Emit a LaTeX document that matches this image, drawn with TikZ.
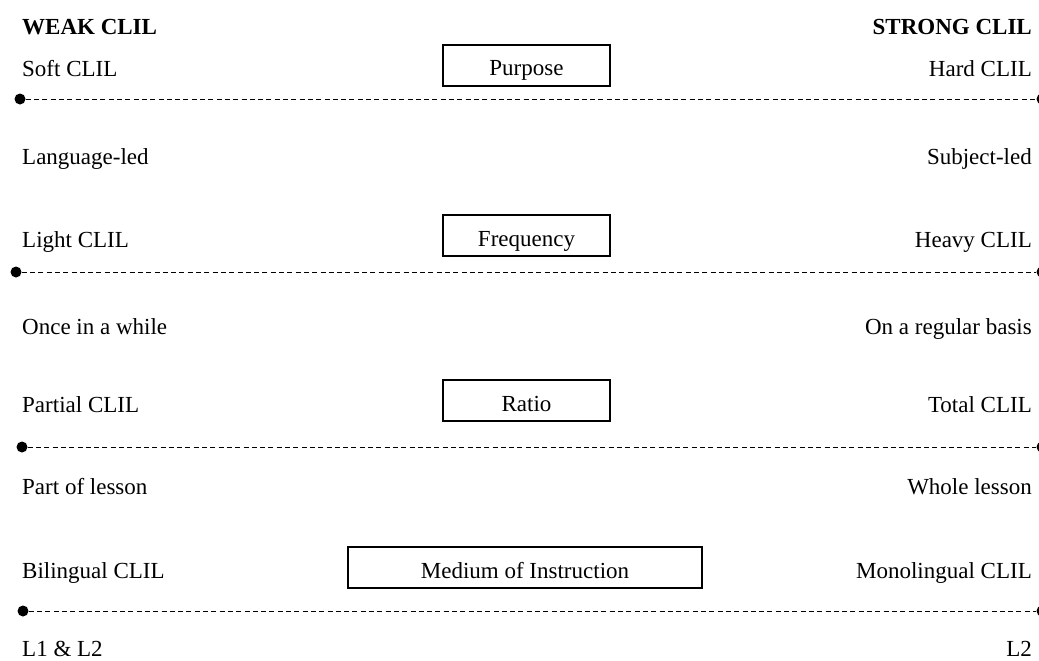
\documentclass[tikz,border=0pt]{standalone}
\usepackage{fontspec}
\setmainfont{Liberation Serif}
\begin{document}
\begin{tikzpicture}[x=1pt,y=-1pt,
  lbl/.style={inner sep=0pt,font=\fontsize{23}{27}\selectfont},
  lft/.style={lbl,anchor=base west},
  rgt/.style={lbl,anchor=base east},
  head/.style={inner sep=0pt,font=\fontsize{23}{27}\selectfont\bfseries},
  catbox/.style={draw,line width=1.3pt,inner sep=0pt,anchor=base,
    text height=31pt,text depth=10pt,align=center,
    font=\fontsize{23}{27}\selectfont},
  dot/.style={circle,fill=black,inner sep=0pt,minimum size=11pt},
  scale line/.style={line width=0.9pt,dash pattern=on 5pt off 3.3pt}]
\useasboundingbox (0,0) rectangle (1039,661);
\node[head,anchor=base west] (weak) at (22,35) {WEAK CLIL};
\node[head,anchor=base east] (strong) at (1032,35) {STRONG CLIL};
% Row 1
\node[lft] (soft) at (22,77) {Soft CLIL};
\node[rgt] (hard) at (1032,77) {Hard CLIL};
\node[catbox,minimum width=167pt] (purpose) at (526.5,76) {Purpose};
\node[dot] (l1) at (20,99) {};
\node[dot] (r1) at (1042,99) {};
\draw[scale line] (l1) -- (r1);
\node[lft] (langled) at (22,164) {Language-led};
\node[rgt] (subjled) at (1032,164) {Subject-led};
% Row 2
\node[lft] (light) at (22,247) {Light CLIL};
\node[rgt] (heavy) at (1032,247) {Heavy CLIL};
\node[catbox,minimum width=167pt] (freq) at (526.5,246) {Frequency};
\node[dot] (l2) at (16,272) {};
\node[dot] (r2) at (1042,272) {};
\draw[scale line] (l2) -- (r2);
\node[lft] (once) at (22,334) {Once in a while};
\node[rgt] (regular) at (1032,334) {On a regular basis};
% Row 3
\node[lft] (partial) at (22,412) {Partial CLIL};
\node[rgt] (total) at (1032,412) {Total CLIL};
\node[catbox,minimum width=167pt] (ratio) at (526.5,411) {Ratio};
\node[dot] (l3) at (22,447) {};
\node[dot] (r3) at (1042,447) {};
\draw[scale line] (l3) -- (r3);
\node[lft] (partof) at (22,494) {Part of lesson};
\node[rgt] (whole) at (1032,494) {Whole lesson};
% Row 4
\node[lft] (biling) at (22,578) {Bilingual CLIL};
\node[rgt] (monoling) at (1032,578) {Monolingual CLIL};
\node[catbox,minimum width=354pt] (medium) at (525,578) {Medium of Instruction};
\node[dot] (l4) at (23,611) {};
\node[dot] (r4) at (1042,611) {};
\draw[scale line] (l4) -- (r4);
\node[lft] (lonetwo) at (22,656) {L1 \& L2};
\node[rgt] (ltwo) at (1032,656) {L2};
\end{tikzpicture}
\end{document}
